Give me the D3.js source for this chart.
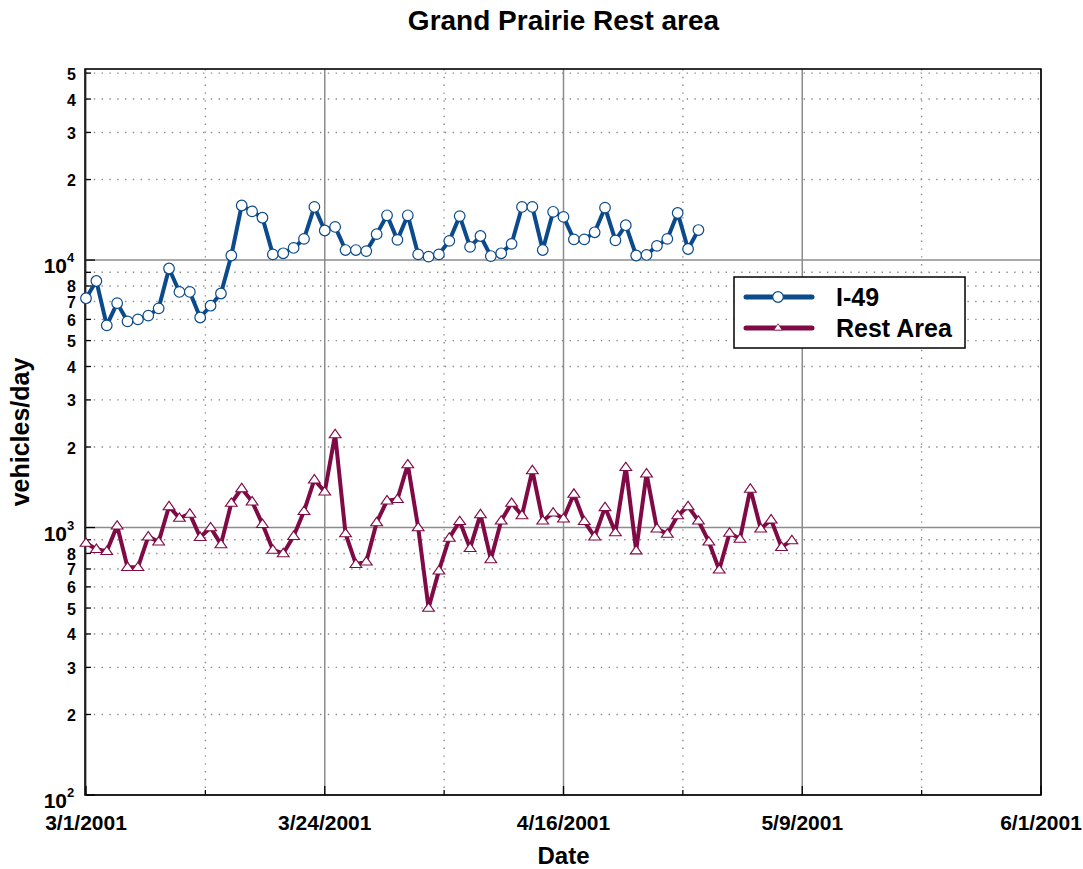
<!DOCTYPE html>
<html>
<head>
<meta charset="utf-8">
<script src="https://cdn.jsdelivr.net/npm/d3@7"></script>
<style>
  html, body { margin: 0; padding: 0; background: #fff; }
  svg { display: block; font-family: "Liberation Sans", Arial, sans-serif; font-weight: bold; }
</style>
</head>
<body>
<svg id="chart" width="1083" height="869"></svg>
<script>
// ---------- data ----------
const startDate = "2001-03-01";
const i49Values = [7200, 8350, 5700, 6900, 5900, 6000, 6200, 6600, 9300, 7600,
  7600, 6100, 6750, 7500, 10400, 16000, 15200, 14400, 10500, 10600,
  11100, 12000, 15800, 12900, 13300, 10900, 10900, 10800, 12500, 14700,
  11900, 14700, 10500, 10300, 10500, 11800, 14600, 11200, 12300, 10350,
  10600, 11500, 15800, 15800, 10900, 15150, 14500, 11950, 11950, 12700,
  15700, 11850, 13500, 10400, 10450, 11300, 12000, 15000, 11000, 12950];
const restAreaValues = [875, 830, 815, 1015, 710, 710, 925, 885, 1200, 1085,
  1125, 920, 1000, 865, 1235, 1400, 1250, 1030, 825, 800,
  928, 1150, 1510, 1360, 2230, 950, 730, 745, 1045, 1260,
  1275, 1720, 1000, 500, 690, 915, 1055, 837, 1120, 760,
  1060, 1235, 1110, 1635, 1060, 1135, 1080, 1335, 1055, 925,
  1190, 958, 1680, 820, 1590, 990, 947, 1110, 1200, 1060,
  885, 695, 955, 907, 1395, 990, 1070, 845, 895];
const xTickLabels = ["3/1/2001", "3/24/2001", "4/16/2001", "5/9/2001", "6/1/2001"];
const yMajorTicks = [100, 1000, 10000];
const yMajorExponents = ["2", "3", "4"];
const yMinorLabels = [200, 300, 400, 500, 600, 700, 800, 2000, 3000, 4000, 5000, 6000, 7000, 8000, 20000, 30000, 40000, 50000];
const seriesNames = ["I-49", "Rest Area"];
const seriesColors = ["#0b4a8b", "#7f0a45"];
const titleText = "Grand Prairie Rest area";
const xLabelText = "Date";
const yLabelText = "vehicles/day";

// ---------- layout ----------
const svg = d3.select("#chart");
const L = 86, R = 1041, T = 69, B = 795;
const parse = d3.utcParse("%m/%d/%Y");
const start = d3.utcParse("%Y-%m-%d")(startDate);
const xMajor = xTickLabels.map(parse);
const xMinor = d3.range(xMajor.length - 1).map(i => new Date((+xMajor[i] + +xMajor[i + 1]) / 2));

const x = d3.scaleUtc().domain([xMajor[0], xMajor[xMajor.length - 1]]).range([L, R]);
const y = d3.scaleLog().domain([100, 51800]).range([B, T]);

const dayOf = i => d3.utcDay.offset(start, i);
const i49 = i49Values.map((v, i) => ({ d: dayOf(i), v }));
const rest = restAreaValues.map((v, i) => ({ d: dayOf(i), v }));

// minor y grid values (2..9 per decade)
const yMinorGrid = [];
[100, 1000, 10000].forEach(dec => { for (let k = 2; k <= 9; k++) { const v = dec * k; if (v <= 51800) yMinorGrid.push(v); } });

const grid = svg.append("g");
grid.selectAll("line.hmin").data(yMinorGrid).enter().append("line")
  .attr("x1", L).attr("x2", R).attr("y1", d => y(d)).attr("y2", d => y(d))
  .attr("stroke", "#8a8a8a").attr("stroke-width", 1.4).attr("stroke-dasharray", "1.4,6.4");
grid.selectAll("line.vmin").data(xMinor).enter().append("line")
  .attr("x1", d => x(d)).attr("x2", d => x(d)).attr("y1", T).attr("y2", B)
  .attr("stroke", "#8a8a8a").attr("stroke-width", 1.4).attr("stroke-dasharray", "1.4,6.4");
grid.selectAll("line.hmaj").data(yMajorTicks).enter().append("line")
  .attr("x1", L).attr("x2", R).attr("y1", d => y(d)).attr("y2", d => y(d))
  .attr("stroke", "#8c8c8c").attr("stroke-width", 1.5);
grid.selectAll("line.vmaj").data(xMajor).enter().append("line")
  .attr("x1", d => x(d)).attr("x2", d => x(d)).attr("y1", T).attr("y2", B)
  .attr("stroke", "#8c8c8c").attr("stroke-width", 1.5);

// ticks (inward)
const ticks = svg.append("g").attr("stroke", "#000").attr("stroke-width", 1.3);
ticks.selectAll("line.ymaj").data(yMajorTicks).enter().append("line")
  .attr("x1", L).attr("x2", L + 9).attr("y1", d => y(d)).attr("y2", d => y(d));
ticks.selectAll("line.ymin").data(yMinorGrid).enter().append("line")
  .attr("x1", L).attr("x2", L + 5).attr("y1", d => y(d)).attr("y2", d => y(d));
ticks.selectAll("line.xmaj").data(xMajor).enter().append("line")
  .attr("x1", d => x(d)).attr("x2", d => x(d)).attr("y1", B).attr("y2", B - 9);
ticks.selectAll("line.xmin").data(xMinor).enter().append("line")
  .attr("x1", d => x(d)).attr("x2", d => x(d)).attr("y1", B).attr("y2", B - 5);

// box
svg.append("rect").attr("x", L - 1).attr("y", T).attr("width", R - L + 1).attr("height", B - T)
  .attr("fill", "none").attr("stroke", "#000").attr("stroke-width", 1.6);

// ---------- series ----------
const line = d3.line().x(d => x(d.d)).y(d => y(d.v));
svg.append("path").datum(i49).attr("d", line).attr("fill", "none")
  .attr("stroke", seriesColors[0]).attr("stroke-width", 4).attr("stroke-linejoin", "round");
svg.append("path").datum(rest).attr("d", line).attr("fill", "none")
  .attr("stroke", seriesColors[1]).attr("stroke-width", 4).attr("stroke-linejoin", "round");

svg.append("g").selectAll("circle").data(i49).enter().append("circle")
  .attr("cx", d => x(d.d)).attr("cy", d => y(d.v)).attr("r", 5.3)
  .attr("fill", "#fff").attr("stroke", seriesColors[0]).attr("stroke-width", 1.2);

const tri = d3.symbol().type(d3.symbolTriangle).size(48);
svg.append("g").selectAll("path").data(rest).enter().append("path")
  .attr("d", tri).attr("transform", d => `translate(${x(d.d)},${y(d.v) + 0.5}) scale(1.12,0.92)`)
  .attr("fill", "#fff").attr("stroke", seriesColors[1]).attr("stroke-width", 1.1);

// ---------- tick labels ----------
svg.append("g").selectAll("text").data(xMajor).enter().append("text")
  .attr("x", d => x(d)).attr("y", 830).attr("text-anchor", "middle")
  .attr("font-size", 21).attr("fill", "#000").text((d, i) => xTickLabels[i]);

const yl = svg.append("g");
yMajorTicks.forEach((v, i) => {
  yl.append("text").attr("x", 67).attr("y", y(v) + 13).attr("text-anchor", "end")
    .attr("font-size", 21).attr("fill", "#000").text("10");
  yl.append("text").attr("x", 67).attr("y", y(v) + 2).attr("text-anchor", "start")
    .attr("font-size", 13).attr("fill", "#000").text(yMajorExponents[i]);
});
yl.selectAll("text.minor").data(yMinorLabels).enter().append("text")
  .attr("x", 76).attr("y", d => y(d) + 6.5).attr("text-anchor", "end")
  .attr("font-size", 16).attr("fill", "#000").text(d => String(d).charAt(0));

// ---------- titles ----------
svg.append("text").attr("x", (L + R) / 2).attr("y", 30).attr("text-anchor", "middle")
  .attr("font-size", 28).attr("fill", "#000").text(titleText);
svg.append("text").attr("x", (L + R) / 2).attr("y", 864).attr("text-anchor", "middle")
  .attr("font-size", 24).attr("fill", "#000").text(xLabelText);
svg.append("text").attr("transform", `translate(29,${(T + B) / 2}) rotate(-90)`)
  .attr("text-anchor", "middle").attr("font-size", 25).attr("fill", "#000").text(yLabelText);

// ---------- legend ----------
const lg = svg.append("g");
lg.append("rect").attr("x", 734).attr("y", 277).attr("width", 231).attr("height", 71)
  .attr("fill", "#fff").attr("stroke", "#000").attr("stroke-width", 1.5);
const legY = [297, 328];
seriesNames.forEach((name, i) => {
  lg.append("line").attr("x1", 746).attr("x2", 812).attr("y1", legY[i]).attr("y2", legY[i])
    .attr("stroke", seriesColors[i]).attr("stroke-width", 5).attr("stroke-linecap", "round");
  if (i === 0) {
    lg.append("circle").attr("cx", 778).attr("cy", legY[i]).attr("r", 5.3)
      .attr("fill", "#fff").attr("stroke", seriesColors[i]).attr("stroke-width", 1.2);
  } else {
    lg.append("path").attr("d", tri).attr("transform", `translate(778,${legY[i]}) scale(0.8,0.7)`)
      .attr("fill", "#fff").attr("stroke", seriesColors[i]).attr("stroke-width", 1);
  }
  lg.append("text").attr("x", 836).attr("y", legY[i] + 9).attr("font-size", 25)
    .attr("fill", "#000").text(name);
});
</script>
</body>
</html>
